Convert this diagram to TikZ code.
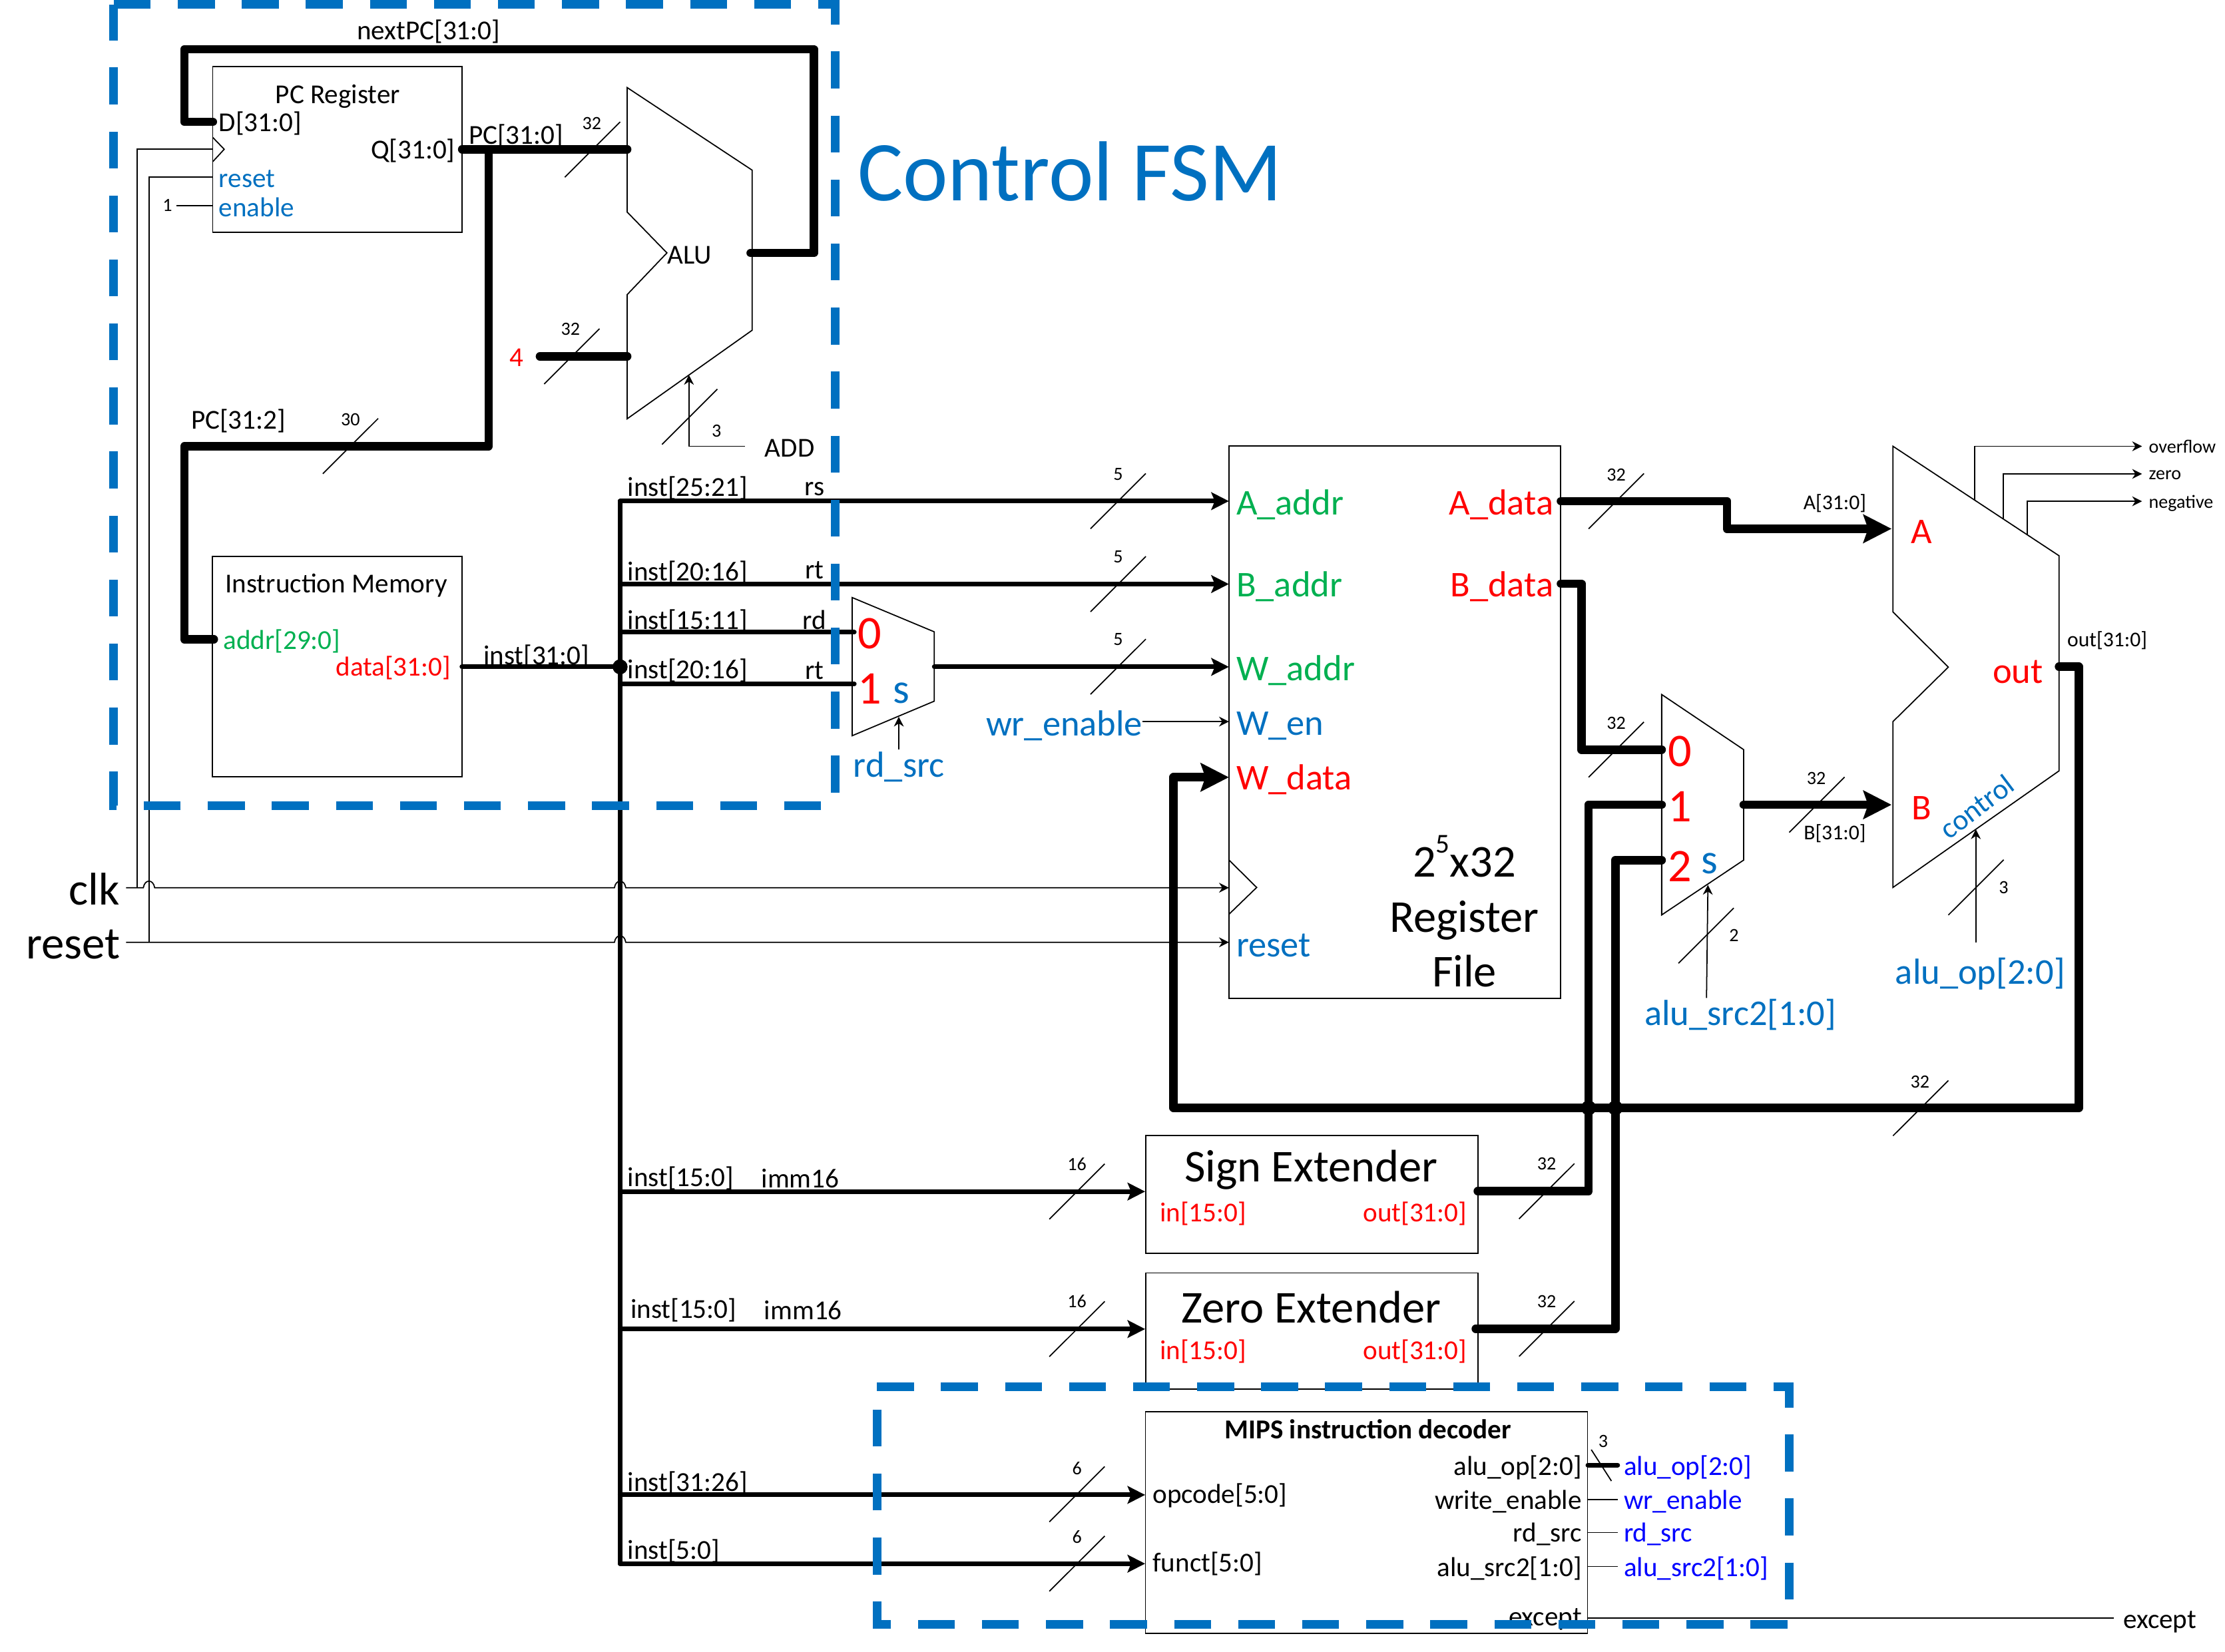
\documentclass[tikz,border=0pt]{standalone}
\usepackage{fontspec}
\setmainfont{Carlito}
\usetikzlibrary{arrows.meta, positioning}
\definecolor{fsmblue}{HTML}{0070C0}
\definecolor{portgreen}{HTML}{00B050}
\def\u{0.021314cm}
\tikzstyle{box} = [rectangle, draw=black, line width=0.5pt, inner sep=0pt]
\tikzstyle{wire} = [line width=0.5pt, -{Stealth[length=4.2pt, width=4.2pt]}]
\tikzstyle{plain} = [line width=0.5pt]
\tikzstyle{medbus} = [line width=2pt, line cap=round, line join=round]
\tikzstyle{medarrow} = [medbus, -{Stealth[length=7.5pt, width=7.5pt, inset=1.5pt]}]
\tikzstyle{thickbus} = [line width=3.6pt, line cap=round, line join=round]
\tikzstyle{thickarrow} = [thickbus, -{Stealth[length=12pt, width=12pt, inset=2pt]}]
\tikzstyle{fsmdash} = [draw=fsmblue, line width=3.7pt, line join=miter, dash pattern=on 15.77pt off 11.6pt]
\tikzstyle{txt} = [inner sep=0pt, yshift=-0.7pt, font=\fontsize{11.7}{14}\selectfont]
\tikzstyle{tiny} = [inner sep=0pt, font=\fontsize{8}{10}\selectfont]
\tikzstyle{mid} = [inner sep=0pt, yshift=-0.5pt, font=\fontsize{9}{11}\selectfont]
\tikzstyle{port} = [inner sep=0pt, yshift=-1.2pt, font=\fontsize{15.5}{18}\selectfont]
\tikzstyle{big} = [inner sep=0pt, font=\fontsize{19.5}{23.6}\selectfont]
\tikzstyle{muxnum} = [inner sep=0pt, text=red, font=\fontsize{20}{24}\selectfont]
\tikzstyle{dot} = [circle, fill=black, inner sep=0pt, minimum size=6.4pt]

\begin{document}
\begin{tikzpicture}[x=0.021314cm, y=-0.021305cm]
	\useasboundingbox (0,0) rectangle (1568,1165);
	
	% Blocks
	\node[box, minimum width=175.7*\u, minimum height=117*\u] (pcreg) at (237.8,105.5) {};
	\node[box, minimum width=175.9*\u, minimum height=155.4*\u] (instmem) at (237.6,470.3) {};
	\node[box, minimum width=233.8*\u, minimum height=389.4*\u] (regfile) at (982.9,509.3) {};
	\node[box, minimum width=234*\u, minimum height=83*\u] (signext) at (924.4,842.5) {};
	\node[box, minimum width=234*\u, minimum height=82*\u] (zeroext) at (924.4,939) {};
	\node[box, minimum width=311.5*\u, minimum height=156*\u] (decoder) at (963,1074) {};
	
	% Muxes and ALUs
	\draw[plain] (442,61.8) -- (530,120) -- (530,233) -- (442,295.4) -- (442,207.8) -- (470,178.4) -- (442,149.6) -- cycle;
	\draw[plain] (600.5,421.5) -- (658.4,445.7) -- (658.4,494.6) -- (600.5,519) -- cycle;
	\draw[plain] (1171,489.9) -- (1228.8,528.8) -- (1228.8,606.7) -- (1171,645.4) -- cycle;
	\draw[plain] (1334,314.8) -- (1451,392) -- (1451,543.8) -- (1334,626) -- (1334,509) -- (1373,470.6) -- (1334,431.7) -- cycle;
	\draw[plain] (866,606.6) -- (885.6,626) -- (866,645);
	\draw[plain] (150,97) -- (158,105.3) -- (150,114);
	
	% Ports
	\coordinate (pcD) at (150,86);
	\coordinate (pcQ) at (325.7,105.3);
	\coordinate (pcclk) at (150,105.3);
	\coordinate (pcrst) at (150,125);
	\coordinate (pcen) at (150,145);
	\coordinate (enone) at (124.5,145);
	\coordinate (alutopa) at (442,105.3);
	\coordinate (alutopb) at (442,251.4);
	\coordinate (fourout) at (380.5,251.4);
	\coordinate (alutopout) at (529,178.5);
	\coordinate (alutopctl) at (485.5,264.5);
	\coordinate (addctl) at (525,314.8);
	\coordinate (nextr) at (573.5,34.8);
	\coordinate (nextl) at (130,34.8);
	\coordinate (pcfork) at (344.3,105.3);
	\coordinate (pcdown) at (344.3,314.8);
	\coordinate (pcleft) at (130,314.8);
	\coordinate (imaddr) at (150.7,451);
	\coordinate (imdata) at (325.5,470.4);
	\coordinate (insttop) at (437,353.5);
	\coordinate (instbot) at (437,1103);
	\coordinate (regAaddr) at (866,353.5);
	\coordinate (regBaddr) at (866,412);
	\coordinate (regWaddr) at (866,470.4);
	\coordinate (regWen) at (866,509);
	\coordinate (regWdata) at (866,548.3);
	\coordinate (regclk) at (866,626.2);
	\coordinate (regrst) at (866,664.7);
	\coordinate (regAdata) at (1100,353.5);
	\coordinate (regBdata) at (1100,411.7);
	\coordinate (rdmuxa) at (602,446);
	\coordinate (rdmuxb) at (602,482.4);
	\coordinate (rdmuxout) at (658.4,470.4);
	\coordinate (rdmuxctl) at (633.4,505.6);
	\coordinate (rdsrcup) at (633.4,528.8);
	\coordinate (wrout) at (805,509);
	\coordinate (abend) at (1217,353.5);
	\coordinate (abendb) at (1217,373);
	\coordinate (aluA) at (1333,373);
	\coordinate (aluB) at (1333,567.7);
	\coordinate (bbend) at (1114.4,411.7);
	\coordinate (srcmuxa) at (1171,528.8);
	\coordinate (srcmuxb) at (1171,567.7);
	\coordinate (srcmuxc) at (1171,606.7);
	\coordinate (srcmuxout) at (1228.8,567.7);
	\coordinate (srcctl) at (1203.6,624.2);
	\coordinate (srcup) at (1202.6,704);
	\coordinate (aluctl) at (1392.4,585);
	\coordinate (opup) at (1392.4,665);
	\coordinate (aluout) at (1451,470.3);
	\coordinate (outr) at (1465,781.5);
	\coordinate (outl) at (827,781.5);
	\coordinate (signout) at (1041.4,840.3);
	\coordinate (signup) at (1119.5,840.3);
	\coordinate (zeroout) at (1040,937.3);
	\coordinate (zeroup) at (1138.3,937.3);
	\coordinate (signin) at (807,840.5);
	\coordinate (zeroin) at (807,937.5);
	\coordinate (opcodein) at (807,1054.5);
	\coordinate (functin) at (807,1103);
	\coordinate (decexcept) at (1119,1141.4);
	\coordinate (exceptend) at (1489.7,1141.4);
	\coordinate (flagovf) at (1391.7,352.9);
	\coordinate (flagzero) at (1411.8,366);
	\coordinate (flagneg) at (1428.8,377.4);
	\coordinate (ovfend) at (1509.5,314.8);
	\coordinate (zeroend) at (1509.5,334.3);
	\coordinate (negend) at (1509.5,353.6);
	\coordinate (clkin) at (88.8,626.2);
	\coordinate (clktap) at (96.5,626.2);
	\coordinate (rstin) at (88.8,664.7);
	\coordinate (rsttap) at (105,664.7);
	
	% Thin wires
	\draw[wire] (clkin) -- (101,626.2) .. controls (102,620) and (108,620) .. (109,626.2) -- (433,626.2) .. controls (434,620) and (440,620) .. (441,626.2) -- (regclk);
	\draw[wire] (rstin) -- (433,664.7) .. controls (434,658.5) and (440,658.5) .. (441,664.7) -- (regrst);
	\draw[plain] (clktap) |- (pcclk);
	\draw[plain] (rsttap) |- (pcrst);
	\draw[plain] (enone) -- (pcen);
	\draw[wire] (addctl) -| (alutopctl);
	\draw[wire] (rdsrcup) -- (rdmuxctl);
	\draw[wire] (wrout) -- (regWen);
	\draw[wire] (srcup) -- (srcctl);
	\draw[wire] (opup) -- (aluctl);
	\draw[wire] (flagovf) |- (ovfend);
	\draw[wire] (flagzero) |- (zeroend);
	\draw[wire] (flagneg) |- (negend);
	\draw[plain] (decexcept) -- (exceptend);
	\foreach \sy/\sn in {1057.7/wr, 1081/rd, 1105/src} {
		\coordinate (stub\sn a) at (1119,\sy);
		\coordinate (stub\sn b) at (1140,\sy);
		\draw[plain] (stub\sn a) -- (stub\sn b);
	}
	\coordinate (stuboa) at (1119,1033.5);
	\coordinate (stubob) at (1140,1033.5);
	\draw[medbus] (stuboa) -- (stubob);
	\draw[plain] (1121.4,1022.6) -- (1135.6,1044.7);
	
	% Buses
	\draw[thickbus] (alutopout) -| (nextr) -- (nextl) |- (pcD);
	\draw[thickbus] (pcQ) -- (alutopa);
	\draw[thickbus] (fourout) -- (alutopb);
	\draw[thickbus] (pcfork) -- (pcdown) -- (pcleft) |- (imaddr);
	\draw[medbus] (imdata) -- (insttop |- imdata);
	\draw[medbus] (insttop) -- (instbot);
	\node[dot] (instdot) at (437,470.4) {};
	\draw[medarrow] (insttop) -- (regAaddr);
	\draw[medarrow] (insttop |- regBaddr) -- (regBaddr);
	\draw[medbus] (insttop |- rdmuxa) -- (rdmuxa);
	\draw[medbus] (insttop |- rdmuxb) -- (rdmuxb);
	\draw[medarrow] (rdmuxout) -- (regWaddr);
	\draw[medarrow] (insttop |- signin) -- (signin);
	\draw[medarrow] (insttop |- zeroin) -- (zeroin);
	\draw[medarrow] (insttop |- opcodein) -- (opcodein);
	\draw[medarrow] (insttop |- functin) -- (functin);
	\draw[thickarrow] (regAdata) -- (abend) -- (abendb) -- (aluA);
	\draw[thickbus] (regBdata) -- (bbend) |- (srcmuxa);
	\draw[thickarrow] (srcmuxout) -- (aluB);
	\draw[thickbus] (signout) -- (signup) |- (srcmuxb);
	\draw[thickbus] (zeroout) -- (zeroup) |- (srcmuxc);
	\draw[thickarrow] (aluout) -| (outr) -- (outl) |- (regWdata);
	\node[dot] (jointa) at (1119.5,781.5) {};
	\node[dot] (jointb) at (1138.3,781.5) {};
	
	% Width marks
	\foreach \sx/\sy/\sw/\lx/\ly in {417.5/105.5/32/417/87, 403/251.4/32/402/232, 486/294/3/505/304, 247/314.7/30/247/296,
		788/353.5/5/788/334.6, 788/412/5/788/393, 788/470.3/5/788/451, 1139/353.5/32/1139/335, 1139/528.8/32/1139/510,
		1280.4/567.7/32/1280/549, 1392.5/626/3/1412/626, 1202.3/660/2/1222/660, 1353.5/781.7/32/1353/763,
		759/840.5/16/759/821, 759/937.5/16/759/918, 1090/840.3/32/1090/821, 1090/937.3/32/1090/918,
		759/1054/6/759/1036, 759/1103/6/759/1084} {
		\draw[plain] (\sx-19.5,\sy+19.5) -- (\sx+19.5,\sy-19.5);
		\node[tiny] at (\lx,\ly) {\sw};
	}
	\node[tiny] (opwidth) at (1129.8,1016.6) {3};
	\node[tiny] (enonetxt) at (118,145) {1};
	
	% Labels
	\node[txt] (nextlab) at (302,21) {nextPC[31:0]};
	\node[txt] (pctitle) at (238,67) {PC Register};
	\node[txt, anchor=west] (pcdlab) at (154,86) {D[31:0]};
	\node[txt, anchor=east] (pcqlab) at (321,105) {Q[31:0]};
	\node[txt, anchor=west, text=fsmblue] (pcrstlab) at (154,125) {reset};
	\node[txt, anchor=west, text=fsmblue] (pcenlab) at (154,145) {enable};
	\node[txt, anchor=west] (pcoutlab) at (330,95) {PC[31:0]};
	\node[txt] (alutoplab) at (486,179) {ALU};
	\node[txt, text=red] (fourlab) at (364,251) {4};
	\node[txt] (addlab) at (556.5,315) {ADD};
	\node[txt] (pcfwdlab) at (168,296) {PC[31:2]};
	\node[txt] (imtitle) at (237,412) {Instruction Memory};
	\node[txt, anchor=west, text=portgreen] (imaddrlab) at (157,451) {addr[29:0]};
	\node[txt, anchor=east, text=red] (imdatalab) at (318,470) {data[31:0]};
	\node[txt] (instlab) at (378,462) {inst[31:0]};
	\node[txt, anchor=west] (rslab) at (442,343) {inst[25:21]};
	\node[txt] (rsname) at (574,344) {rs};
	\node[txt, anchor=west] (rtlab) at (442,403) {inst[20:16]};
	\node[txt] (rtname) at (574,401) {rt};
	\node[txt, anchor=west] (rdlab) at (442,437) {inst[15:11]};
	\node[txt] (rdname) at (574,436) {rd};
	\node[txt, anchor=west] (rtblab) at (442,472) {inst[20:16]};
	\node[txt] (rtbname) at (574,472) {rt};
	\node[muxnum] (rdzero) at (613,447) {0};
	\node[muxnum] (rdone) at (613,486) {1};
	\node[inner sep=0pt, text=fsmblue, font=\fontsize{18}{20}\selectfont] (rds) at (635,489) {s};
	\node[port, text=fsmblue] (rdsrclab) at (633.5,539) {rd\_src};
	\node[port, text=fsmblue] (wrlab) at (750,510) {wr\_enable};
	\node[port, anchor=west, text=portgreen] (aaddrlab) at (871,354) {A\_addr};
	\node[port, anchor=west, text=portgreen] (baddrlab) at (871,412) {B\_addr};
	\node[port, anchor=west, text=portgreen] (waddrlab) at (871,471) {W\_addr};
	\node[port, anchor=west, text=fsmblue] (wenlab) at (871,510) {W\_en};
	\node[port, anchor=west, text=red] (wdatalab) at (871,548) {W\_data};
	\node[port, anchor=west, text=fsmblue] (rstlab) at (871,665) {reset};
	\node[port, anchor=east, text=red] (adatalab) at (1095,354) {A\_data};
	\node[port, anchor=east, text=red] (bdatalab) at (1095,412) {B\_data};
	\node[big, align=center] (regtitle) at (1032,647) {2\smash{\raisebox{1.1ex}{\fontsize{11.7}{12}\selectfont 5}}x32\\Register\\File};
	\node[muxnum] (srczero) at (1184,530) {0};
	\node[muxnum] (srcone) at (1184,569) {1};
	\node[muxnum] (srctwo) at (1184,611) {2};
	\node[inner sep=0pt, text=fsmblue, font=\fontsize{18}{20}\selectfont] (srcs) at (1205,609) {s};
	\node[port, text=fsmblue] (srclab) at (1226.5,714) {alu\_src2[1:0]};
	\node[port, text=fsmblue] (oplab) at (1395.5,685) {alu\_op[2:0]};
	\node[port, text=red] (alua) at (1354,373) {A};
	\node[port, text=red] (alub) at (1354,568) {B};
	\node[port, text=red] (aluoutlab) at (1422,472) {out};
	\node[inner sep=0pt, text=fsmblue, rotate=37, font=\fontsize{12.5}{14}\selectfont] (ctrllab) at (1393,569) {control};
	\node[mid] (alab) at (1293,354) {A[31:0]};
	\node[mid] (blab) at (1293,587) {B[31:0]};
	\node[mid] (outlab) at (1485,451) {out[31:0]};
	\node[tiny, anchor=west] (ovflab) at (1514,315) {overflow};
	\node[tiny, anchor=west] (zerolab) at (1514,335) {zero};
	\node[tiny, anchor=west] (neglab) at (1514,355) {negative};
	\node[big] (signtitle) at (924,825) {Sign Extender};
	\node[txt, anchor=west, text=red] (signinlab) at (817,855) {in[15:0]};
	\node[txt, anchor=east, text=red] (signoutlab) at (1034,855) {out[31:0]};
	\node[big] (zerotitle) at (924,922) {Zero Extender};
	\node[txt, anchor=west, text=red] (zeroinlab) at (817,952) {in[15:0]};
	\node[txt, anchor=east, text=red] (zerooutlab) at (1034,952) {out[31:0]};
	\node[txt, anchor=west] (imma) at (442,830) {inst[15:0]};
	\node[txt] (immaname) at (564,830) {imm16};
	\node[txt, anchor=west] (immb) at (444,923) {inst[15:0]};
	\node[txt] (immbname) at (566,923) {imm16};
	\node[txt, font=\fontsize{11.7}{14}\selectfont\bfseries] (dectitle) at (964,1007) {MIPS instruction decoder};
	\node[txt, anchor=west] (oplaba) at (442,1045) {inst[31:26]};
	\node[txt, anchor=west] (fnlaba) at (442,1093) {inst[5:0]};
	\node[txt, anchor=west] (opcodelab) at (812,1054) {opcode[5:0]};
	\node[txt, anchor=west] (functlab) at (812,1102) {funct[5:0]};
	\node[txt, anchor=east] (decop) at (1115,1034) {alu\_op[2:0]};
	\node[txt, anchor=east] (decwr) at (1115,1058) {write\_enable};
	\node[txt, anchor=east] (decrd) at (1115,1081) {rd\_src};
	\node[txt, anchor=east] (decsrc) at (1115,1105) {alu\_src2[1:0]};
	\node[txt, anchor=east] (decexc) at (1115,1141) {except};
	\node[txt, anchor=west, text=blue] (outop) at (1144,1034) {alu\_op[2:0]};
	\node[txt, anchor=west, text=blue] (outwr) at (1144,1058) {wr\_enable};
	\node[txt, anchor=west, text=blue] (outrd) at (1144,1081) {rd\_src};
	\node[txt, anchor=west, text=blue] (outsrc) at (1144,1105) {alu\_src2[1:0]};
	\node[txt, anchor=west] (excepttxt) at (1496,1143) {except};
	\node[inner sep=0pt, anchor=east, font=\fontsize{19.6}{22}\selectfont] (clklab) at (84.5,627) {clk};
	\node[inner sep=0pt, anchor=east, font=\fontsize{19.6}{22}\selectfont] (rstname) at (85,666) {reset};
	\node[inner sep=0pt, anchor=west, text=fsmblue, font=\fontsize{36.4}{40}\selectfont] (fsmlab) at (604,121) {Control FSM};
	
	% Dashed regions
	\draw[fsmdash] (80.2,3.2) -- (588.6,3.2) -- (588.6,568.3) -- (80.2,568.3) -- cycle;
	\draw[fsmdash] (618,978) -- (1261,978) -- (1261,1146) -- (618,1146) -- cycle;
	
\end{tikzpicture}
\end{document}
